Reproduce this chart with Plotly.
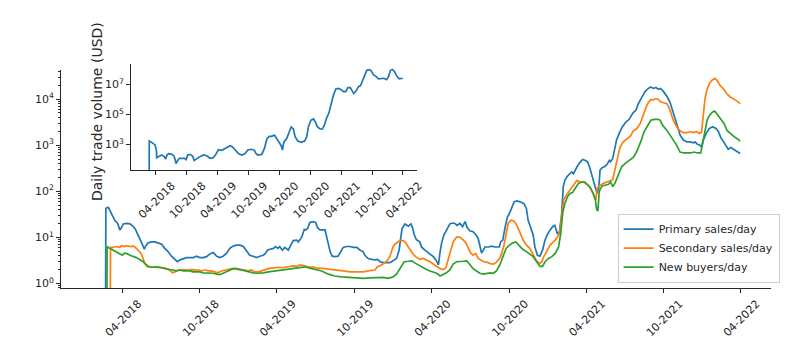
import numpy as np
import pandas as pd
import plotly.graph_objects as go

# ---------------- data (day offsets from 2018-04-01, values as log10) -----
DAY0 = "2018-04-01"

primary_days = [
    -40, -39, -33, -30, -24, -18, -11, -6, -2, 2,
    10, 18, 26, 31, 36, 41, 47, 52, 55, 61,
    69, 77, 85, 93, 100, 108, 116, 124, 130, 136,
    144, 152, 160, 168, 175, 183, 191, 199, 207, 215,
    223, 230, 238, 246, 254, 262, 270, 278, 286, 294,
    301, 309, 317, 325, 333, 337, 343, 349, 357, 362,
    368, 372, 378, 384, 392, 398, 404, 412, 416, 420,
    424, 430, 433, 438, 443, 451, 457, 461, 467, 479,
    483, 487, 491, 496, 502, 510, 517, 522, 530, 538,
    546, 554, 562, 569, 573, 581, 589, 597, 603, 609,
    617, 624, 632, 636, 640, 648, 654, 658, 661, 668,
    676, 682, 686, 690, 695, 703, 707, 715, 723, 729,
    735, 741, 747, 751, 755, 760, 766, 774, 780, 786,
    791, 798, 804, 810, 815, 821, 829, 836, 841, 845,
    849, 853, 857, 865, 873, 881, 891, 894, 899, 904,
    910, 914, 920, 926, 932, 940, 949, 955, 959, 965,
    971, 975, 981, 987, 993, 999, 1004, 1011, 1017, 1022,
    1028, 1033, 1038, 1042, 1046, 1052, 1058, 1062, 1066, 1070,
    1075, 1081, 1088, 1093, 1099, 1104, 1109, 1115, 1119, 1122,
    1126, 1129, 1134, 1141, 1146, 1151, 1154, 1159, 1163, 1168,
    1175, 1182, 1190, 1198, 1206, 1214, 1219, 1227, 1235, 1243,
    1249, 1255, 1261, 1267, 1272, 1279, 1287, 1294, 1302, 1310,
    1318, 1326, 1334, 1342, 1350, 1353, 1359, 1365, 1369, 1373,
    1379, 1387, 1395, 1403, 1409, 1414, 1421, 1427, 1432, 1438,
    1444, 1450, 1456, 1460,
]
primary_log10 = [
    -2, 1.63, 1.65, 1.60, 1.48, 1.37, 1.30, 1.16, 1.21, 1.29,
    1.30, 1.29, 1.23, 1.17, 1.07, 0.98, 0.85, 0.74, 0.81, 0.88,
    0.90, 0.90, 0.88, 0.85, 0.76, 0.69, 0.59, 0.52, 0.47, 0.51,
    0.54, 0.56, 0.56, 0.56, 0.59, 0.56, 0.56, 0.58, 0.64, 0.67,
    0.59, 0.56, 0.59, 0.65, 0.76, 0.81, 0.83, 0.83, 0.80, 0.71,
    0.61, 0.59, 0.56, 0.59, 0.61, 0.64, 0.72, 0.74, 0.76, 0.80,
    0.76, 0.80, 0.72, 0.78, 0.72, 0.83, 0.93, 0.94, 0.90, 0.95,
    1.01, 1.17, 1.16, 1.19, 1.32, 1.34, 1.32, 1.21, 1.16, 1.16,
    0.98, 0.83, 0.69, 0.59, 0.58, 0.59, 0.72, 0.78, 0.80, 0.80,
    0.78, 0.78, 0.72, 0.69, 0.61, 0.54, 0.52, 0.51, 0.52, 0.47,
    0.45, 0.45, 0.45, 0.47, 0.49, 0.54, 0.72, 1.01, 1.19, 1.29,
    1.24, 1.29, 1.20, 1.05, 0.95, 0.90, 0.79, 0.72, 0.66, 0.61,
    0.58, 0.51, 0.40, 0.69, 0.90, 1.05, 1.16, 1.29, 1.31, 1.30,
    1.26, 1.30, 1.23, 1.34, 1.21, 1.14, 1.12, 1.05, 0.97, 0.79,
    0.66, 0.72, 0.79, 0.79, 0.81, 0.79, 0.79, 0.90, 0.94, 1.19,
    1.44, 1.50, 1.62, 1.77, 1.79, 1.77, 1.73, 1.62, 1.37, 1.23,
    1.05, 0.79, 0.61, 0.59, 0.72, 0.94, 1.05, 1.16, 1.23, 1.26,
    1.08, 1.12, 1.48, 2.10, 2.24, 2.33, 2.38, 2.42, 2.38, 2.46,
    2.54, 2.62, 2.69, 2.67, 2.64, 2.53, 2.38, 2.20, 2.06, 1.95,
    2.06, 2.46, 2.51, 2.54, 2.59, 2.67, 2.64, 2.71, 2.89, 3.11,
    3.27, 3.40, 3.50, 3.56, 3.69, 3.76, 3.89, 4.03, 4.16, 4.23,
    4.26, 4.23, 4.25, 4.21, 4.23, 4.16, 4.06, 3.94, 3.72, 3.47,
    3.22, 3.11, 3.07, 3.07, 3.05, 3.07, 3.02, 3.00, 2.96, 3.11,
    3.24, 3.36, 3.40, 3.36, 3.29, 3.17, 3.07, 2.98, 2.91, 2.95,
    2.91, 2.88, 2.83, 2.82,
]

secondary_days = [
    -29, -28, -22, -14, -6, -2, 4, 10, 18, 26,
    31, 37, 44, 49, 53, 59, 65, 73, 81, 89,
    96, 104, 112, 118, 124, 132, 140, 148, 156, 164,
    171, 179, 187, 195, 203, 211, 219, 226, 234, 242,
    250, 258, 266, 274, 282, 290, 297, 305, 313, 321,
    329, 337, 349, 357, 368, 378, 392, 404, 412, 420,
    430, 443, 451, 461, 467, 479, 487, 496, 510, 522,
    538, 554, 569, 581, 597, 603, 609, 617, 624, 632,
    636, 640, 644, 650, 656, 664, 670, 675, 680, 686,
    693, 703, 711, 719, 727, 735, 743, 751, 759, 765,
    770, 776, 782, 790, 798, 806, 812, 818, 823, 829,
    835, 841, 846, 854, 862, 869, 877, 883, 889, 894,
    901, 907, 912, 918, 924, 930, 936, 941, 947, 955,
    963, 969, 977, 985, 991, 996, 1004, 1011, 1019, 1026,
    1033, 1038, 1043, 1049, 1056, 1062, 1068, 1074, 1082, 1090,
    1097, 1104, 1109, 1115, 1119, 1122, 1129, 1137, 1145, 1152,
    1159, 1164, 1170, 1176, 1184, 1192, 1200, 1208, 1216, 1224,
    1232, 1238, 1243, 1249, 1255, 1261, 1267, 1272, 1279, 1287,
    1294, 1302, 1310, 1318, 1326, 1334, 1342, 1350, 1357, 1365,
    1369, 1373, 1377, 1382, 1388, 1395, 1400, 1406, 1412, 1420,
    1428, 1436, 1444, 1452, 1460,
]
secondary_log10 = [
    -2, 0.78, 0.78, 0.80, 0.78, 0.82, 0.80, 0.82, 0.80, 0.81,
    0.78, 0.72, 0.65, 0.54, 0.43, 0.36, 0.35, 0.35, 0.35, 0.34,
    0.33, 0.32, 0.29, 0.23, 0.25, 0.29, 0.30, 0.29, 0.29, 0.30,
    0.30, 0.29, 0.27, 0.29, 0.27, 0.27, 0.25, 0.23, 0.27, 0.29,
    0.30, 0.32, 0.32, 0.30, 0.30, 0.29, 0.27, 0.29, 0.25, 0.25,
    0.27, 0.30, 0.33, 0.33, 0.35, 0.34, 0.36, 0.38, 0.37, 0.40,
    0.38, 0.35, 0.36, 0.33, 0.33, 0.32, 0.30, 0.29, 0.29, 0.27,
    0.25, 0.25, 0.25, 0.27, 0.29, 0.36, 0.38, 0.43, 0.47, 0.58,
    0.69, 0.80, 0.85, 0.90, 0.93, 0.93, 0.88, 0.80, 0.72, 0.65,
    0.58, 0.52, 0.54, 0.51, 0.47, 0.42, 0.36, 0.32, 0.30, 0.35,
    0.52, 0.72, 0.90, 1.01, 1.00, 0.94, 0.88, 0.76, 0.66, 0.61,
    0.65, 0.54, 0.51, 0.47, 0.46, 0.43, 0.42, 0.45, 0.51, 0.58,
    0.79, 1.12, 1.30, 1.37, 1.36, 1.30, 1.19, 1.08, 0.94, 0.83,
    0.76, 0.66, 0.52, 0.43, 0.46, 0.58, 0.72, 0.83, 0.90, 0.97,
    1.08, 1.52, 1.81, 1.91, 1.99, 2.08, 2.15, 2.23, 2.20, 2.20,
    2.15, 2.10, 2.02, 1.91, 1.81, 2.06, 2.13, 2.17, 2.20, 2.23,
    2.25, 2.46, 2.74, 2.95, 3.07, 3.14, 3.19, 3.31, 3.36, 3.47,
    3.69, 3.83, 3.92, 3.99, 3.98, 4.01, 3.99, 3.94, 3.92, 3.90,
    3.77, 3.54, 3.40, 3.31, 3.27, 3.27, 3.29, 3.27, 3.29, 3.25,
    3.29, 3.69, 4.01, 4.21, 4.35, 4.42, 4.45, 4.40, 4.30, 4.23,
    4.12, 4.05, 4.01, 3.96, 3.90,
]

buyers_days = [
    -37, -36, -30, -22, -14, -6, 0, 4, 10, 18,
    26, 33, 41, 49, 57, 65, 73, 81, 89, 96,
    104, 112, 120, 128, 136, 144, 152, 160, 167, 175,
    183, 191, 199, 207, 215, 223, 230, 238, 246, 254,
    262, 270, 278, 286, 294, 301, 309, 317, 325, 333,
    345, 360, 376, 392, 408, 424, 432, 443, 455, 471,
    487, 502, 518, 534, 554, 569, 585, 601, 617, 628,
    640, 648, 654, 660, 666, 676, 684, 690, 699, 704,
    711, 719, 727, 735, 743, 751, 759, 766, 774, 782,
    790, 798, 806, 814, 821, 829, 837, 845, 853, 861,
    869, 877, 884, 892, 900, 907, 915, 923, 930, 938,
    946, 955, 963, 971, 979, 987, 993, 999, 1007, 1015,
    1023, 1031, 1036, 1041, 1046, 1052, 1058, 1064, 1070, 1078,
    1086, 1093, 1101, 1107, 1113, 1118, 1121, 1124, 1127, 1133,
    1141, 1149, 1154, 1159, 1164, 1172, 1180, 1188, 1198, 1208,
    1215, 1225, 1233, 1241, 1249, 1257, 1265, 1271, 1277, 1287,
    1294, 1302, 1310, 1318, 1327, 1335, 1343, 1351, 1359, 1367,
    1371, 1377, 1382, 1388, 1395, 1400, 1406, 1414, 1422, 1429,
    1437, 1445, 1453, 1460,
]
buyers_log10 = [
    -2, 0.80, 0.76, 0.72, 0.69, 0.65, 0.61, 0.65, 0.65, 0.61,
    0.59, 0.56, 0.52, 0.47, 0.40, 0.35, 0.35, 0.36, 0.35, 0.33,
    0.32, 0.30, 0.29, 0.27, 0.29, 0.27, 0.27, 0.27, 0.25, 0.25,
    0.25, 0.23, 0.23, 0.22, 0.22, 0.20, 0.19, 0.22, 0.25, 0.29,
    0.32, 0.32, 0.30, 0.29, 0.27, 0.25, 0.23, 0.22, 0.22, 0.23,
    0.25, 0.27, 0.29, 0.30, 0.32, 0.35, 0.36, 0.33, 0.30, 0.27,
    0.20, 0.16, 0.14, 0.13, 0.11, 0.11, 0.12, 0.13, 0.13, 0.11,
    0.14, 0.20, 0.29, 0.40, 0.47, 0.48, 0.49, 0.45, 0.40, 0.37,
    0.35, 0.30, 0.27, 0.25, 0.22, 0.16, 0.20, 0.23, 0.29, 0.42,
    0.47, 0.47, 0.48, 0.49, 0.42, 0.32, 0.27, 0.22, 0.20, 0.22,
    0.23, 0.22, 0.27, 0.40, 0.58, 0.76, 0.83, 0.88, 0.90, 0.83,
    0.74, 0.69, 0.63, 0.58, 0.47, 0.37, 0.37, 0.47, 0.54, 0.58,
    0.65, 0.79, 1.08, 1.55, 1.74, 1.88, 1.95, 1.97, 2.06, 2.17,
    2.20, 2.20, 2.13, 2.06, 1.95, 1.81, 1.60, 1.57, 1.99, 2.11,
    2.13, 2.15, 2.20, 2.10, 2.17, 2.35, 2.53, 2.60, 2.67, 2.74,
    2.85, 3.07, 3.29, 3.43, 3.54, 3.56, 3.56, 3.54, 3.43, 3.32,
    3.22, 3.11, 3.00, 2.85, 2.83, 2.83, 2.83, 2.85, 2.83, 2.83,
    3.00, 3.29, 3.54, 3.65, 3.72, 3.74, 3.67, 3.58, 3.47, 3.32,
    3.25, 3.19, 3.14, 3.09,
]

volume_days = [
    -39, -38, -24, -4, 4, 6, 16, 36, 51, 59,
    67, 75, 95, 107, 114, 120, 128, 140, 158, 170,
    180, 189, 203, 219, 227, 243, 262, 282, 302, 321,
    341, 355, 371, 391, 406, 420, 440, 454, 469, 489,
    509, 529, 544, 568, 584, 592, 603, 627, 643, 657,
    671, 686, 702, 716, 730, 742, 749, 757, 775, 791,
    801, 814, 824, 840, 860, 880, 893, 903, 917, 933,
    943, 955, 972, 986, 998, 1010, 1025, 1037, 1051, 1065,
    1081, 1096, 1110, 1124, 1136, 1150, 1160, 1171, 1185, 1199,
    1211, 1223, 1235, 1248, 1264, 1274, 1288, 1302, 1317, 1333,
    1349, 1365, 1377, 1388, 1400, 1412, 1426, 1440, 1455, 1461,
]
volume_log10 = [
    -1, 3.22, 3.13, 2.96, 2.62, 2.11, 2.18, 2.29, 2.18, 2.02,
    2.29, 2.38, 2.33, 2.24, 2.02, 1.71, 1.89, 2.07, 2.07, 2.07,
    1.98, 2.29, 2.33, 2.20, 1.93, 2.07, 2.18, 2.29, 2.24, 2.07,
    2.11, 2.33, 2.64, 2.60, 2.69, 2.82, 2.91, 2.82, 2.62, 2.38,
    2.29, 2.38, 2.62, 2.67, 2.60, 2.40, 2.29, 2.33, 2.73, 3.36,
    3.53, 3.53, 3.62, 3.40, 3.13, 2.91, 2.62, 3.13, 3.40, 3.84,
    4.16, 4.02, 3.51, 3.22, 3.13, 3.22, 3.51, 4.18, 4.60, 4.69,
    4.51, 4.18, 4.02, 4.02, 4.29, 4.73, 5.13, 5.67, 6.29, 6.69,
    6.73, 6.64, 6.51, 6.51, 6.78, 6.78, 6.56, 6.38, 6.56, 6.84,
    6.91, 7.22, 7.58, 7.93, 7.98, 7.89, 7.62, 7.53, 7.36, 7.40,
    7.40, 7.31, 7.53, 7.93, 7.98, 7.84, 7.53, 7.36, 7.40, 7.40,
]

series_names = ["Primary sales/day", "Secondary sales/day", "New buyers/day"]
series_colors = ["#1f77b4", "#ff7f0e", "#2ca02c"]

tick_dates = ["2018-04-01", "2018-10-01", "2019-04-01", "2019-10-01", "2020-04-01",
              "2020-10-01", "2021-04-01", "2021-10-01", "2022-04-01"]
tick_text = ["04-2018", "10-2018", "04-2019", "10-2019", "04-2020",
             "10-2020", "04-2021", "10-2021", "04-2022"]
main_y_ticks = [1, 10, 100, 1000, 10000]
main_y_text = ["10<sup>0</sup>", "10<sup>1</sup>", "10<sup>2</sup>", "10<sup>3</sup>", "10<sup>4</sup>"]
inset_y_ticks = [1e3, 1e5, 1e7]
inset_y_text = ["10<sup>3</sup>", "10<sup>5</sup>", "10<sup>7</sup>"]

# ---------------- figure ----------------
FONT = "DejaVu Sans"
INK = "#262626"


def to_dates(days):
    base = pd.Timestamp(DAY0)
    return [base + pd.Timedelta(days=int(d)) for d in days]


fig = go.Figure()
for days, logs, name, color in zip(
        [primary_days, secondary_days, buyers_days],
        [primary_log10, secondary_log10, buyers_log10],
        series_names, series_colors):
    assert len(days) == len(logs), name
    fig.add_trace(go.Scatter(x=to_dates(days), y=np.power(10.0, logs), name=name,
                             mode="lines", line=dict(color=color, width=1.7),
                             xaxis="x", yaxis="y"))

assert len(volume_days) == len(volume_log10)
fig.add_trace(go.Scatter(x=to_dates(volume_days), y=np.power(10.0, volume_log10),
                         mode="lines", line=dict(color=series_colors[0], width=1.7),
                         showlegend=False, xaxis="x2", yaxis="y2"))

minor_vals = [m * 10 ** e for e in range(-1, 5) for m in range(2, 10)]

axis_common = dict(showline=True, linecolor=INK, linewidth=1, ticks="outside",
                   tickcolor=INK, tickwidth=1, showgrid=False, zeroline=False,
                   tickfont=dict(family=FONT, size=11, color=INK))

fig.update_layout(
    width=792, height=353,
    margin=dict(l=61, r=21, t=64, b=65, pad=0),
    paper_bgcolor="white", plot_bgcolor="white",
    font=dict(family=FONT, color=INK),
    showlegend=True,
    xaxis=dict(domain=[0, 1], anchor="y", type="date",
               range=["2017-11-07", "2022-06-12"],
               tickmode="array", tickvals=tick_dates, ticktext=tick_text,
               tickangle=-45, ticklen=4, ticklabelshift=16, **axis_common),
    yaxis=dict(domain=[0, 0.9732], anchor="x", type="log", range=[-0.10, 4.63],
               tickmode="array", tickvals=main_y_ticks, ticktext=main_y_text,
               ticklen=4,
               minor=dict(tickmode="array", tickvals=minor_vals, ticks="outside",
                          ticklen=2, tickwidth=0.8, tickcolor=INK, showgrid=False),
               **axis_common),
    xaxis2=dict(domain=[0.0986, 0.501], anchor="y2", type="date",
                range=["2017-11-06", "2022-06-22"],
                tickmode="array", tickvals=tick_dates, ticktext=tick_text,
                tickangle=-45, ticklen=4, ticklabelshift=16, **axis_common),
    yaxis2=dict(domain=[0.5268, 1.0], anchor="x2", type="log", range=[1.29, 8.35],
                tickmode="array", tickvals=inset_y_ticks, ticktext=inset_y_text,
                ticklen=4, **axis_common),
    legend=dict(x=0.784, y=0.024, xanchor="left", yanchor="bottom",
                bgcolor="rgba(255,255,255,0.8)", bordercolor="#cccccc", borderwidth=1,
                font=dict(family=FONT, size=11, color=INK),
                itemwidth=30, tracegroupgap=0),
    annotations=[dict(text="Daily trade volume (USD)", textangle=-90,
                      xref="paper", yref="paper", x=0.0507, y=0.79,
                      xanchor="center", yanchor="middle", showarrow=False,
                      font=dict(family=FONT, size=14, color=INK))],
)

fig.write_html("out.html")
